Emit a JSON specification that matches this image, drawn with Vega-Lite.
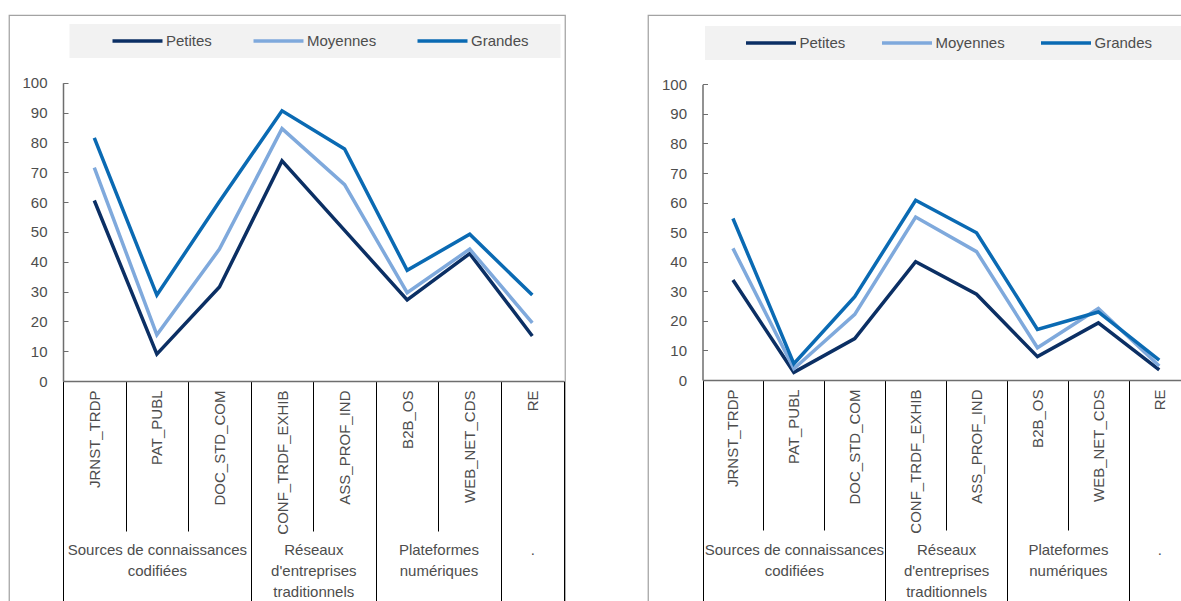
{
  "$schema": "https://vega.github.io/schema/vega-lite/v6.json",
  "background": "white",
  "padding": {"left": 1, "top": 14, "right": 0, "bottom": 0},
  "spacing": 83,
  "bounds": "flush",
  "config": {
    "font": "Liberation Sans, Arial, sans-serif",
    "view": {"stroke": "#a3a3a3", "strokeWidth": 1.25},
    "axis": {"grid": false, "titleFontSize": 15}
  },
  "datasets": {
    "gauche": [
      {"cat": "JRNST_TRDP", "taille": "Petites", "valeur": 60.5},
      {"cat": "JRNST_TRDP", "taille": "Moyennes", "valeur": 71.5},
      {"cat": "JRNST_TRDP", "taille": "Grandes", "valeur": 81.5},
      {"cat": "PAT_PUBL", "taille": "Petites", "valeur": 9.0},
      {"cat": "PAT_PUBL", "taille": "Moyennes", "valeur": 15.5},
      {"cat": "PAT_PUBL", "taille": "Grandes", "valeur": 28.8},
      {"cat": "DOC_STD_COM", "taille": "Petites", "valeur": 31.5},
      {"cat": "DOC_STD_COM", "taille": "Moyennes", "valeur": 44.2},
      {"cat": "DOC_STD_COM", "taille": "Grandes", "valeur": 60.2},
      {"cat": "CONF_TRDF_EXHIB", "taille": "Petites", "valeur": 73.8},
      {"cat": "CONF_TRDF_EXHIB", "taille": "Moyennes", "valeur": 84.6},
      {"cat": "CONF_TRDF_EXHIB", "taille": "Grandes", "valeur": 90.6},
      {"cat": "ASS_PROF_IND", "taille": "Petites", "valeur": 50.5},
      {"cat": "ASS_PROF_IND", "taille": "Moyennes", "valeur": 65.8},
      {"cat": "ASS_PROF_IND", "taille": "Grandes", "valeur": 77.8},
      {"cat": "B2B_OS", "taille": "Petites", "valeur": 27.2},
      {"cat": "B2B_OS", "taille": "Moyennes", "valeur": 29.6},
      {"cat": "B2B_OS", "taille": "Grandes", "valeur": 37.1},
      {"cat": "WEB_NET_CDS", "taille": "Petites", "valeur": 42.7},
      {"cat": "WEB_NET_CDS", "taille": "Moyennes", "valeur": 44.2},
      {"cat": "WEB_NET_CDS", "taille": "Grandes", "valeur": 49.2},
      {"cat": "RE", "taille": "Petites", "valeur": 15.1},
      {"cat": "RE", "taille": "Moyennes", "valeur": 19.5},
      {"cat": "RE", "taille": "Grandes", "valeur": 28.8}
    ],
    "droite": [
      {"cat": "JRNST_TRDP", "taille": "Petites", "valeur": 33.8},
      {"cat": "JRNST_TRDP", "taille": "Moyennes", "valeur": 44.5},
      {"cat": "JRNST_TRDP", "taille": "Grandes", "valeur": 54.6},
      {"cat": "PAT_PUBL", "taille": "Petites", "valeur": 2.6},
      {"cat": "PAT_PUBL", "taille": "Moyennes", "valeur": 3.8},
      {"cat": "PAT_PUBL", "taille": "Grandes", "valeur": 5.5},
      {"cat": "DOC_STD_COM", "taille": "Petites", "valeur": 14.0},
      {"cat": "DOC_STD_COM", "taille": "Moyennes", "valeur": 22.2},
      {"cat": "DOC_STD_COM", "taille": "Grandes", "valeur": 28.2},
      {"cat": "CONF_TRDF_EXHIB", "taille": "Petites", "valeur": 40.0},
      {"cat": "CONF_TRDF_EXHIB", "taille": "Moyennes", "valeur": 55.1},
      {"cat": "CONF_TRDF_EXHIB", "taille": "Grandes", "valeur": 60.8},
      {"cat": "ASS_PROF_IND", "taille": "Petites", "valeur": 29.0},
      {"cat": "ASS_PROF_IND", "taille": "Moyennes", "valeur": 43.4},
      {"cat": "ASS_PROF_IND", "taille": "Grandes", "valeur": 49.8},
      {"cat": "B2B_OS", "taille": "Petites", "valeur": 7.9},
      {"cat": "B2B_OS", "taille": "Moyennes", "valeur": 10.9},
      {"cat": "B2B_OS", "taille": "Grandes", "valeur": 17.1},
      {"cat": "WEB_NET_CDS", "taille": "Petites", "valeur": 19.3},
      {"cat": "WEB_NET_CDS", "taille": "Moyennes", "valeur": 24.2},
      {"cat": "WEB_NET_CDS", "taille": "Grandes", "valeur": 23.0},
      {"cat": "RE", "taille": "Petites", "valeur": 3.4},
      {"cat": "RE", "taille": "Moyennes", "valeur": 4.7},
      {"cat": "RE", "taille": "Grandes", "valeur": 6.7}
    ],
    "groupes": [
      {"groupe": "Sources de connaissances codifiées", "centre": 1.5},
      {"groupe": "Réseaux d'entreprises traditionnels", "centre": 4},
      {"groupe": "Plateformes numériques", "centre": 6},
      {"groupe": ".", "centre": 7.5}
    ]
  },
  "hconcat": [
    {
      "width": 556,
      "height": 600,
      "layer": [
        {
          "data": {"name": "gauche"},
          "mark": {"type": "line", "strokeWidth": 3.5},
          "encoding": {
            "x": {
              "field": "cat", "type": "nominal", "sort": null,
              "scale": {"type": "band", "paddingInner": 0, "paddingOuter": 0, "range": [54, 554.6]},
              "axis": {
                "title": null, "orient": "bottom", "offset": -234,
                "tickBand": "extent", "labelAngle": -90,
                "labelFontSize": 15, "labelColor": "#4d4d4d", "labelOverlap": false,
                "tickSize": {"condition": {"test": "indexof(['JRNST_TRDP','PAT_PUBL','CONF_TRDF_EXHIB','B2B_OS'], datum.value) >= 0", "value": 150}, "value": 234},
                "labelPadding": {"condition": {"test": "indexof(['JRNST_TRDP','PAT_PUBL','CONF_TRDF_EXHIB','B2B_OS'], datum.value) >= 0", "value": -141}, "value": -225},
                "tickColor": "#000000", "tickWidth": 1,
                "domainColor": "#6e6e6e", "domainWidth": 1.5
              }
            },
            "y": {
              "field": "valeur", "type": "quantitative",
              "scale": {"domain": [0, 100], "range": [366, 67.7], "nice": false},
              "axis": {
                "title": null, "orient": "left", "offset": -54,
                "values": [0, 10, 20, 30, 40, 50, 60, 70, 80, 90, 100],
                "tickSize": -5, "labelPadding": 21,
                "tickColor": "#6e6e6e", "domainColor": "#6e6e6e", "domainWidth": 1.5,
                "labelFontSize": 15, "labelColor": "#4d4d4d"
              }
            },
            "color": {
              "field": "taille", "type": "nominal",
              "scale": {"domain": ["Petites", "Moyennes", "Grandes"], "range": ["#0b2f64", "#7fa9dc", "#0a6ab3"]},
              "legend": {
                "orient": "none", "legendX": 60.5, "legendY": 9, "direction": "horizontal",
                "title": "\u00a0", "titleOrient": "right", "titlePadding": 24, "titleFontSize": 15,
                "fillColor": "#f2f2f2", "padding": 8,
                "symbolType": "stroke", "symbolSize": 2500, "symbolStrokeWidth": 3.5,
                "symbolOffset": 33, "labelOffset": 1.5, "columnPadding": 6, "clipHeight": 18,
                "labelFontSize": 15, "labelColor": "#4d4d4d", "labelLimit": 200
              }
            }
          }
        },
        {
          "data": {"name": "groupes"},
          "mark": {"type": "point", "opacity": 0},
          "encoding": {
            "x": {
              "field": "centre", "type": "quantitative",
              "scale": {"domain": [0, 8], "range": [54, 554.6], "nice": false, "zero": false},
              "axis": {
                "title": null, "orient": "bottom", "offset": -73,
                "values": [1.5, 4, 6, 7.5], "domain": false, "ticks": false,
                "labelPadding": 0, "labelBaseline": "top", "labelAlign": "center",
                "labelFontSize": 15, "labelLineHeight": 21, "labelColor": "#4d4d4d",
                "labelFlush": false, "labelOverlap": false, "labelBound": false,
                "labelExpr": "datum.value == 1.5 ? ['Sources de connaissances', 'codifiées'] : datum.value == 4 ? ['Réseaux', \"d'entreprises\", 'traditionnels'] : datum.value == 6 ? ['Plateformes', 'numériques'] : '.'"
              }
            }
          }
        }
      ],
      "resolve": {"scale": {"x": "independent"}, "axis": {"x": "independent"}}
    },
    {
      "width": 560,
      "height": 600,
      "layer": [
        {
          "data": {"name": "droite"},
          "mark": {"type": "line", "strokeWidth": 3.5},
          "encoding": {
            "x": {
              "field": "cat", "type": "nominal", "sort": null,
              "scale": {"type": "band", "paddingInner": 0, "paddingOuter": 0, "range": [54.5, 541.7]},
              "axis": {
                "title": null, "orient": "bottom", "offset": -235,
                "tickBand": "extent", "labelAngle": -90,
                "labelFontSize": 15, "labelColor": "#4d4d4d", "labelOverlap": false,
                "tickSize": {"condition": {"test": "indexof(['JRNST_TRDP','PAT_PUBL','CONF_TRDF_EXHIB','B2B_OS'], datum.value) >= 0", "value": 150}, "value": 235},
                "labelPadding": {"condition": {"test": "indexof(['JRNST_TRDP','PAT_PUBL','CONF_TRDF_EXHIB','B2B_OS'], datum.value) >= 0", "value": -141}, "value": -226},
                "tickColor": "#000000", "tickWidth": 1,
                "domainColor": "#6e6e6e", "domainWidth": 1.5
              }
            },
            "y": {
              "field": "valeur", "type": "quantitative",
              "scale": {"domain": [0, 100], "range": [365, 69.3], "nice": false},
              "axis": {
                "title": null, "orient": "left", "offset": -54.5,
                "values": [0, 10, 20, 30, 40, 50, 60, 70, 80, 90, 100],
                "tickSize": -5, "labelPadding": 21,
                "tickColor": "#6e6e6e", "domainColor": "#6e6e6e", "domainWidth": 1.5,
                "labelFontSize": 15, "labelColor": "#4d4d4d"
              }
            },
            "color": {
              "field": "taille", "type": "nominal",
              "scale": {"domain": ["Petites", "Moyennes", "Grandes"], "range": ["#0b2f64", "#7fa9dc", "#0a6ab3"]},
              "legend": {
                "orient": "none", "legendX": 57, "legendY": 11, "direction": "horizontal",
                "title": "\u00a0", "titleOrient": "right", "titlePadding": 24, "titleFontSize": 15,
                "fillColor": "#f2f2f2", "padding": 8,
                "symbolType": "stroke", "symbolSize": 2500, "symbolStrokeWidth": 3.5,
                "symbolOffset": 31, "labelOffset": 1.5, "columnPadding": 3, "clipHeight": 18,
                "labelFontSize": 15, "labelColor": "#4d4d4d", "labelLimit": 200
              }
            }
          }
        },
        {
          "data": {"name": "groupes"},
          "mark": {"type": "point", "opacity": 0},
          "encoding": {
            "x": {
              "field": "centre", "type": "quantitative",
              "scale": {"domain": [0, 8], "range": [54.5, 541.7], "nice": false, "zero": false},
              "axis": {
                "title": null, "orient": "bottom", "offset": -73,
                "values": [1.5, 4, 6, 7.5], "domain": false, "ticks": false,
                "labelPadding": 0, "labelBaseline": "top", "labelAlign": "center",
                "labelFontSize": 15, "labelLineHeight": 21, "labelColor": "#4d4d4d",
                "labelFlush": false, "labelOverlap": false, "labelBound": false,
                "labelExpr": "datum.value == 1.5 ? ['Sources de connaissances', 'codifiées'] : datum.value == 4 ? ['Réseaux', \"d'entreprises\", 'traditionnels'] : datum.value == 6 ? ['Plateformes', 'numériques'] : '.'"
              }
            }
          }
        }
      ],
      "resolve": {"scale": {"x": "independent"}, "axis": {"x": "independent"}}
    }
  ],
  "resolve": {"scale": {"color": "independent"}, "legend": {"color": "independent"}}
}
